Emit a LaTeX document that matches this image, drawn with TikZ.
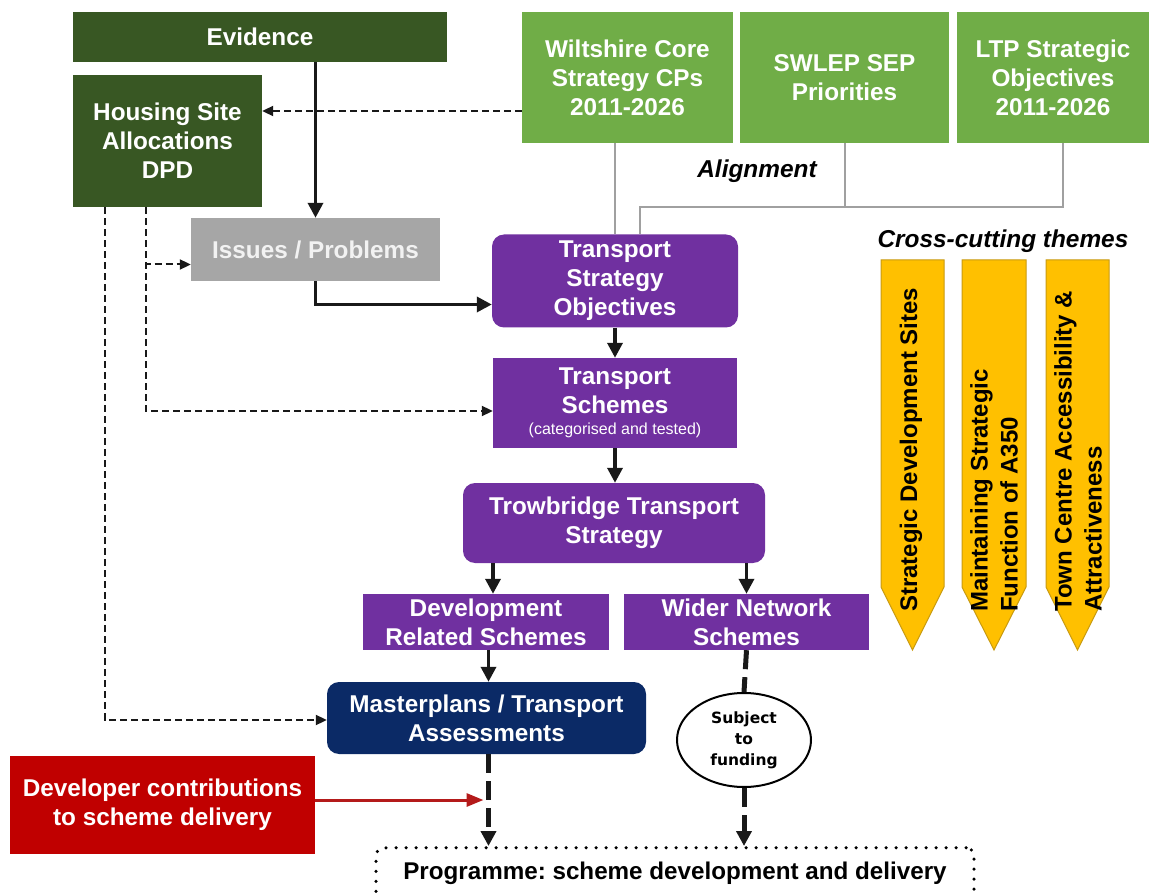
\documentclass[tikz,border=0pt]{standalone}
\usepackage{fontspec}
\setmainfont{Liberation Sans}
\newfontfamily\dejavu{DejaVu Sans}
\usetikzlibrary{arrows.meta,shapes.geometric,calc}

\definecolor{evgreen}{HTML}{385723}
\definecolor{lightgreen}{HTML}{70AD47}
\definecolor{issuegrey}{HTML}{A6A6A6}
\definecolor{tpurple}{HTML}{7030A0}
\definecolor{mpnavy}{HTML}{0B2A66}
\definecolor{devred}{HTML}{C00000}
\definecolor{arrowred}{HTML}{B41A1A}
\definecolor{themeyellow}{HTML}{FFC000}
\definecolor{themeedge}{HTML}{C89A10}
\definecolor{alignline}{HTML}{A0A0A0}

\frenchspacing
\begin{document}
\begin{tikzpicture}[x=1pt,y=-1pt,
  boxtxt/.style={rectangle, font=\bfseries\fontsize{24.3}{29}\selectfont,
    text=white, align=center, inner sep=0pt},
  roundbox/.style={boxtxt, rounded corners=12pt},
  thickarr/.style={draw=black!90, line width=3.5pt,
    -{Triangle[length=15pt,width=15pt]}},
  thindash/.style={draw=black!90, line width=2pt, dash pattern=on 7pt off 4pt,
    -{Triangle[length=11pt,width=10pt]}},
  heavydash/.style={draw=black!90, line width=5pt, dash pattern=on 19pt off 8pt},
  heavydasharr/.style={heavydash, -{Triangle[length=15pt,width=15pt]}},
  greyline/.style={draw=alignline, line width=2pt},
  themearrow/.style={fill=themeyellow, draw=themeedge, line width=1pt},
  themetxt/.style={rotate=90, anchor=west, inner sep=0pt, align=left,
    font=\bfseries\fontsize{24}{30}\selectfont, text=black},
  labeltxt/.style={font=\bfseries\itshape\fontsize{24.4}{28}\selectfont, text=black, inner sep=0pt}
]
\useasboundingbox (0,0) rectangle (1163,893);
\clip (0,0) rectangle (1163,893);

% ---- source documents --------------------------------------------------
\node[boxtxt, fill=evgreen, minimum width=374, minimum height=50] (ev) at (260,37) {Evidence};
\node[boxtxt, fill=evgreen, minimum width=189, minimum height=132] (hs) at (167.5,141)
  {Housing Site\\Allocations\\DPD};
\node[boxtxt, fill=lightgreen, minimum width=211, minimum height=131] (wc) at (627.5,77.5)
  {Wiltshire Core\\Strategy CPs\\2011-2026};
\node[boxtxt, fill=lightgreen, minimum width=209, minimum height=131] (sw) at (844.5,77.5)
  {SWLEP SEP\\Priorities};
\node[boxtxt, fill=lightgreen, minimum width=192, minimum height=131] (ltp) at (1053,77.5)
  {LTP Strategic\\Objectives\\2011-2026};

\node[boxtxt, fill=issuegrey, text=white!95!black, minimum width=249, minimum height=63] (iss) at (315.5,249.5)
  {Issues / Problems};

% ---- strategy chain ------------------------------------------------------
\node[roundbox, fill=tpurple, minimum width=246, minimum height=93] (tso) at (615,281)
  {Transport\\Strategy\\Objectives};
\node[boxtxt, fill=tpurple, minimum width=244, minimum height=90] (ts) at (615,403)
  {Transport\\Schemes\\[-8pt]{\mdseries\fontsize{16}{18}\selectfont (categorised and tested)}};
\node[roundbox, fill=tpurple, minimum width=302, minimum height=80] (tts) at (614,523)
  {Trowbridge Transport\\Strategy};
\node[boxtxt, fill=tpurple, minimum width=246, minimum height=56] (drs) at (486,622)
  {Development\\Related Schemes};
\node[boxtxt, fill=tpurple, minimum width=245, minimum height=56] (wns) at (746.5,622)
  {Wider Network\\Schemes};
\node[roundbox, fill=mpnavy, minimum width=319, minimum height=72] (mp) at (486.5,718)
  {Masterplans / Transport\\Assessments};
\node[boxtxt, fill=devred, minimum width=305, minimum height=98] (dev) at (162.5,805)
  {Developer contributions\\to scheme delivery};
\node[ellipse, draw=black, line width=2pt, fill=white, minimum width=134, minimum height=94,
  inner sep=0pt, align=center, font=\dejavu\bfseries\fontsize{15.5}{21}\selectfont] (fund) at (744,740)
  {Subject\\to\\funding};
\node[rectangle, draw=black, line width=3.5pt, dash pattern=on 0pt off 10pt, line cap=round,
  rounded corners=8pt, minimum width=598, minimum height=52, anchor=north, inner sep=0pt,
  font=\bfseries\fontsize{24.2}{28}\selectfont] (prog) at (675,846)
  {Programme: scheme development and delivery};

% ---- labels --------------------------------------------------------------
\node[labeltxt] (alignlbl) at (757,171) {Alignment};
\node[labeltxt] (crosslbl) at (1003,241) {Cross-cutting themes};

% ---- cross-cutting theme arrows -----------------------------------------
\draw[themearrow] (881,260) -- (944,260) -- (944,587) -- (912.5,650) -- (881,587) -- cycle;
\draw[themearrow] (962,260) -- (1026,260) -- (1026,587) -- (994,650) -- (962,587) -- cycle;
\draw[themearrow] (1046,260) -- (1109,260) -- (1109,587) -- (1077.5,650) -- (1046,587) -- cycle;
\node[themetxt] (th1) at (911,612) {Strategic Development Sites};
\node[themetxt] (th2) at (994,612) {Maintaining Strategic\\Function of A350};
\node[themetxt] (th3) at (1078,612) {Town Centre Accessibility \&\\Attractiveness};

% ---- alignment connectors ----------------------------------------------
\draw[greyline] (wc.south -| tso.north) -- (tso.north);
\coordinate (ltpdrop) at ($(ltp.south)+(10,0)$);
\coordinate (tsojoin) at ($(tso.north)+(25,0)$);
\draw[greyline] (ltpdrop) |- ($(tsojoin)+(0,-27)$) -- (tsojoin);
\draw[greyline] (sw.south) -- ($(sw.south)+(0,64)$);

% ---- evidence flows -------------------------------------------------------
\draw[thickarr] (ev.south -| iss.north) -- (iss.north);
\draw[thickarr] (iss.south) |- ($(tso.west)+(0,23.5)$);
\coordinate (wcdash) at ($(wc.west)+(0,33.5)$);
\draw[thindash] (wcdash) -- (wcdash -| hs.east);

\coordinate (hsA) at ($(hs.south)+(-21.5,0)$);
\coordinate (hsB) at ($(hs.south)+(-62.5,0)$);
\draw[thindash] (hsA) |- ($(iss.west)+(0,15)$);
\draw[thindash] (hsA) |- ($(ts.west)+(0,8)$);
\draw[thindash] (hsB) |- ($(mp.west)+(0,2)$);

% ---- main chain arrows ---------------------------------------------------
\draw[thickarr] (tso.south) -- (ts.north);
\draw[thickarr] (ts.south) -- (ts.south |- tts.north);
\coordinate (drsin) at ($(drs.north)+(7,0)$);
\draw[thickarr] (drsin |- tts.south) -- (drsin);
\draw[thickarr] (wns.north |- tts.south) -- (wns.north);
\coordinate (mpin) at ($(mp.north)+(2,0)$);
\draw[thickarr] (mpin |- drs.south) -- (mpin);

\draw[heavydasharr] (mpin |- mp.south) -- (mpin |- prog.north);
\draw[heavydash] (wns.south) -- (fund.north);
\draw[heavydasharr] (fund.south) -- (fund.south |- prog.north);

\coordinate (devout) at ($(dev.east)+(0,-5)$);
\draw[draw=arrowred, line width=3pt, -{Triangle[length=17pt,width=13pt]}]
  (devout) -- ($(devout -| mpin)+(-5,0)$);

\end{tikzpicture}
\end{document}
